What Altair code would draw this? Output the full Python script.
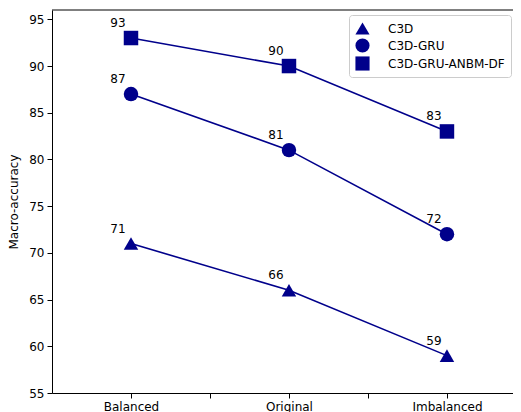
import altair as alt
import pandas as pd

categories = ["Balanced", "Original", "Imbalanced"]
positions = [0, 1, 2]
series_names = ["C3D", "C3D-GRU", "C3D-GRU-ANBM-DF"]
c3d = [71, 66, 59]
c3d_gru = [87, 81, 72]
c3d_gru_anbm = [93, 90, 83]

rows = []
for name, vals in zip(series_names, [c3d, c3d_gru, c3d_gru_anbm]):
    for p, c, v in zip(positions, categories, vals):
        rows.append({"series": name, "pos": p, "cat": c, "value": v})
df = pd.DataFrame(rows)

NAVY = "#00008b"
FONT = "DejaVu Sans"
W, H = 461, 383

x = alt.X("pos:Q", scale=alt.Scale(domain=[-0.5, 2.418], nice=False, zero=False),
          axis=alt.Axis(values=[0, 0.5, 1, 1.5, 2],
                        labelExpr="datum.value == 0 ? 'Balanced' : datum.value == 1 ? 'Original' : datum.value == 2 ? 'Imbalanced' : ''",
                        title=None, grid=False, domainColor="#000", tickColor="#000",
                        labelColor="#000", labelFont=FONT, labelFontSize=12,
                        tickSize=5, labelPadding=3))
y = alt.Y("value:Q", scale=alt.Scale(domain=[55, 96], nice=False, zero=False),
          axis=alt.Axis(values=[55, 60, 65, 70, 75, 80, 85, 90, 95],
                        title="Macro-accuracy", grid=False, domainColor="#000",
                        tickColor="#000", labelColor="#000", labelFont=FONT,
                        labelFontSize=12, titleFont=FONT, titleFontSize=12,
                        titleFontWeight="normal", titleColor="#000",
                        tickSize=5, labelPadding=3, titlePadding=8))

base = alt.Chart(df)

top_border = alt.Chart(pd.DataFrame({"k": [0]})).mark_rule(color="#000", strokeWidth=1).encode(
    x=alt.value(0), x2=alt.value(W), y=alt.value(0))

lines = base.mark_line(color=NAVY, strokeWidth=1.6).encode(
    x=x, y=y, detail="series:N")

points = base.mark_point(filled=True, opacity=1, color=NAVY).encode(
    x=x, y=y,
    shape=alt.Shape("series:N",
                    scale=alt.Scale(domain=series_names,
                                    range=["triangle-up", "circle", "square"]),
                    legend=alt.Legend(title=None, orient="none", legendX=297, legendY=5,
                                      labelFont=FONT, labelFontSize=12, labelColor="#000",
                                      symbolSize=200, symbolFillColor=NAVY,
                                      symbolStrokeColor=NAVY, symbolStrokeWidth=0,
                                      symbolOpacity=1,
                                      rowPadding=3, labelOffset=18,
                                      strokeColor="#cccccc", fillColor="white",
                                      padding=6, cornerRadius=3)),
    size=alt.value(210))

labels = base.mark_text(font=FONT, fontSize=12, color="#000", dx=-13, dy=-15).encode(
    x=x, y=y, text="value:Q")

chart = alt.layer(top_border, lines, points, labels).properties(
    width=W, height=H,
    autosize=alt.AutoSizeParams(type="none"),
    padding={"left": 44, "top": 2, "right": 0, "bottom": 19},
).configure_view(stroke=None)

chart.save("out.html", embed_options={"renderer": "svg", "actions": False})
